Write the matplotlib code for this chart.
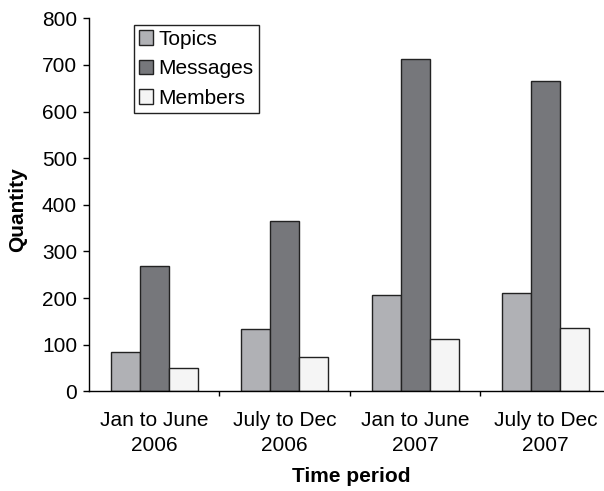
import matplotlib
matplotlib.use("Agg")
import matplotlib.pyplot as plt
import numpy as np

plt.rcParams['font.family'] = ['Liberation Sans', 'DejaVu Sans']

periods = ["Jan to June\n2006", "July to Dec\n2006", "Jan to June\n2007", "July to Dec\n2007"]
series_names = ["Topics", "Messages", "Members"]
topics = [84, 134, 207, 211]
messages = [269, 365, 712, 666]
members = [51, 73, 113, 136]
colors = ["#b0b1b5", "#76777b", "#f5f5f5"]

FS = 15
W, H = 604, 491
fig = plt.figure(figsize=(W / 100, H / 100), dpi=100)
ax_left, ax_right, ax_top, ax_bottom = 89, 611, 18.3, 391.3
ax = fig.add_axes([ax_left / W, (H - ax_bottom) / H,
                   (ax_right - ax_left) / W, (ax_bottom - ax_top) / H])

x = np.arange(len(periods)) + 0.5
bw = 0.222
for i, (vals, name, col) in enumerate(zip([topics, messages, members], series_names, colors)):
    ax.bar(x + (i - 1) * bw, vals, width=bw, color=col, edgecolor="#222222",
           linewidth=1.0, label=name)

ax.set_xlim(0, len(periods))
ax.set_ylim(0, 800)
ax.set_yticks(range(0, 801, 100))
ax.set_xticks(x)
ax.set_xticklabels(periods, fontsize=FS, linespacing=1.4)
ax.set_xticks(np.arange(1, len(periods)), minor=True)
ax.tick_params(axis='x', which='major', length=0, pad=14)
ax.tick_params(axis='x', which='minor', length=3.6, width=1, direction='out')
ax.tick_params(axis='y', labelsize=FS, length=4.3, width=1, direction='out', pad=4.3)
for s in ['top', 'right']:
    ax.spines[s].set_visible(False)
for s in ['left', 'bottom']:
    ax.spines[s].set_linewidth(1.0)

fig.text(18 / W, 1 - 210 / H, "Quantity", rotation=90, fontsize=FS,
         fontweight='bold', ha='center', va='center')
fig.text(351 / W, 1 - 477 / H, "Time period", fontsize=FS,
         fontweight='bold', ha='center', va='center')

leg = ax.legend(loc='upper left', bbox_to_anchor=(134 / W, 1 - 24.7 / H),
                bbox_transform=fig.transFigure, fontsize=FS, frameon=True,
                fancybox=False, edgecolor='#222222', framealpha=1,
                handlelength=0.68, handleheight=0.68, handletextpad=0.25,
                borderpad=0.25, labelspacing=0.5, borderaxespad=0)
leg.get_frame().set_linewidth(1.0)

fig.savefig("out.png", dpi=100)
